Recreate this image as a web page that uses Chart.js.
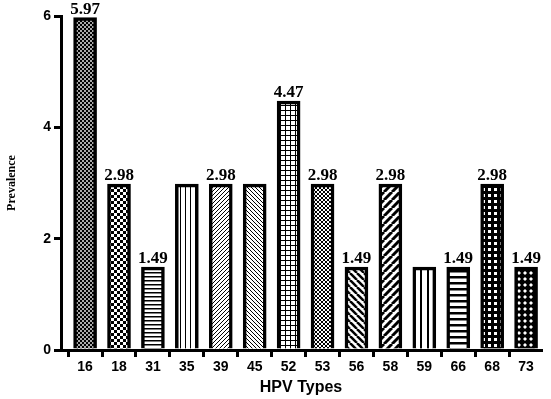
<!DOCTYPE html>
<html>
<head>
<meta charset="utf-8">
<script src="https://cdn.jsdelivr.net/npm/chart.js@4"></script>
<style>
  html, body { margin: 0; padding: 0; background: #fff; }
  #wrap { width: 551px; height: 399px; }
</style>
</head>
<body>
<div id="wrap"><canvas id="chart" width="551" height="399"></canvas></div>
<script>
// dados do gráfico
const categories = ['16', '18', '31', '35', '39', '45', '52', '53', '56', '58', '59', '66', '68', '73'];
const prevalence = [5.97, 2.98, 1.49, 2.98, 2.98, 2.98, 4.47, 2.98, 1.49, 2.98, 1.49, 1.49, 2.98, 1.49];
const valueLabels = ['5.97', '2.98', '1.49', '', '2.98', '', '4.47', '2.98', '1.49', '2.98', '', '1.49', '2.98', '1.49'];
const yTicks = [0, 2, 4, 6];

// padrões de preenchimento (preto e branco)
const makeTile = (size, draw, bg = '#fff') => {
  const c = document.createElement('canvas');
  c.width = size;
  c.height = size;
  const g = c.getContext('2d');
  g.fillStyle = bg;
  g.fillRect(0, 0, size, size);
  g.fillStyle = '#000';
  g.strokeStyle = '#000';
  draw(g, size);
  return document.getElementById('chart').getContext('2d').createPattern(c, 'repeat');
};

const checker = (cell, bg) => makeTile(cell * 2, (g) => {
  g.fillRect(0, 0, cell, cell);
  g.fillRect(cell, cell, cell, cell);
}, bg);

const hLines = (s, w) => makeTile(s, (g) => g.fillRect(0, 0, s, w));
const vLines = (s, w) => makeTile(s, (g) => g.fillRect(0, 0, w, s));

const diag = (s, w, dir) => makeTile(s, (g, size) => {
  g.lineWidth = w;
  for (let x0 = -size; x0 <= size; x0 += size) {
    g.beginPath();
    if (dir === '/') {
      g.moveTo(x0, size);
      g.lineTo(x0 + size, 0);
    } else {
      g.moveTo(x0, 0);
      g.lineTo(x0 + size, size);
    }
    g.stroke();
  }
});

const grid = (s, w) => makeTile(s, (g) => {
  g.fillRect(0, 0, s, w);
  g.fillRect(0, 0, w, s);
});

const crossHatch = (s, w) => makeTile(s, (g, size) => {
  g.lineWidth = w;
  for (let x0 = -size; x0 <= size; x0 += size) {
    g.beginPath();
    g.moveTo(x0, size);
    g.lineTo(x0 + size, 0);
    g.moveTo(x0, 0);
    g.lineTo(x0 + size, size);
    g.stroke();
  }
});

const lattice = () => makeTile(6, (g) => {
  g.fillRect(0, 0, 6, 6);
  g.fillStyle = '#fff';
  g.beginPath();
  g.moveTo(3, 1);
  g.lineTo(5, 3);
  g.lineTo(3, 5);
  g.lineTo(1, 3);
  g.closePath();
  g.fill();
});

const thickGrid = () => makeTile(6, (g) => {
  g.fillRect(0, 0, 6, 6);
  g.fillStyle = '#fff';
  g.fillRect(2, 2, 3, 3);
});

const patterns = [
  checker(2, '#aaa'),
  checker(3),
  hLines(4, 1.5),
  vLines(5, 1),
  diag(4, 1, '/'),
  diag(4, 1, '\\'),
  grid(5, 1),
  crossHatch(4, 1),
  diag(7, 2.5, '\\'),
  diag(8, 3, '/'),
  vLines(7, 2),
  hLines(6, 2.5),
  thickGrid(),
  lattice(),
];

// plugin para escrever os valores acima das barras
const valueLabelPlugin = {
  id: 'valueLabels',
  afterDatasetsDraw(chart) {
    const ctx = chart.ctx;
    const meta = chart.getDatasetMeta(0);
    ctx.save();
    ctx.font = 'bold 17px "Liberation Serif"';
    ctx.fillStyle = '#000';
    ctx.textAlign = 'center';
    ctx.textBaseline = 'alphabetic';
    meta.data.forEach((bar, i) => {
      if (valueLabels[i]) ctx.fillText(valueLabels[i], bar.x, bar.y - 4);
    });
    ctx.restore();
  },
};

new Chart(document.getElementById('chart').getContext('2d'), {
  type: 'bar',
  data: {
    datasets: [
      {
        data: prevalence.map((v, i) => ({ x: i, y: v })),
        backgroundColor: patterns,
        borderColor: '#000',
        borderWidth: 3.5,
        borderSkipped: 'start',
        barThickness: 23,
      },
    ],
  },
  options: {
    responsive: false,
    animation: false,
    layout: { padding: { top: 16, right: 10, left: 0, bottom: 0 } },
    plugins: {
      legend: { display: false },
      tooltip: { enabled: false },
    },
    scales: {
      x: {
        type: 'linear',
        offset: false,
        min: -0.71,
        max: 13.44,
        afterBuildTicks: (axis) => {
          axis.ticks = categories.map((c, i) => ({ value: i }));
        },
        afterFit: (axis) => { axis.height = 49; },
        ticks: {
          callback: (v) => categories[v],
          autoSkip: false,
          maxRotation: 0,
          padding: 2,
          color: '#000',
          font: { family: '"Liberation Sans"', weight: 'bold', size: 14 },
        },
        grid: {
          drawOnChartArea: false,
          drawTicks: true,
          tickLength: 7,
          lineWidth: 3,
          color: '#000',
        },
        border: { display: true, color: '#000', width: 3 },
        title: {
          display: true,
          text: 'HPV Types',
          color: '#000',
          font: { family: '"Liberation Sans"', weight: 'bold', size: 16 },
          padding: { top: 0, bottom: 2 },
        },
      },
      y: {
        min: 0,
        max: 6,
        afterBuildTicks: (axis) => {
          axis.ticks = yTicks.map((v) => ({ value: v }));
        },
        afterFit: (axis) => { axis.width = 61; },
        ticks: {
          padding: 3,
          color: '#000',
          font: { family: '"Liberation Sans"', weight: 'bold', size: 14 },
        },
        grid: {
          drawOnChartArea: false,
          drawTicks: true,
          tickLength: 7,
          lineWidth: 3,
          color: '#000',
        },
        border: { display: true, color: '#000', width: 3 },
        title: {
          display: true,
          text: 'Prevalence',
          color: '#000',
          font: { family: '"Liberation Serif"', weight: 'bold', size: 12 },
          padding: { top: 5, bottom: 0 },
        },
      },
    },
  },
  plugins: [valueLabelPlugin],
});
</script>
</body>
</html>
